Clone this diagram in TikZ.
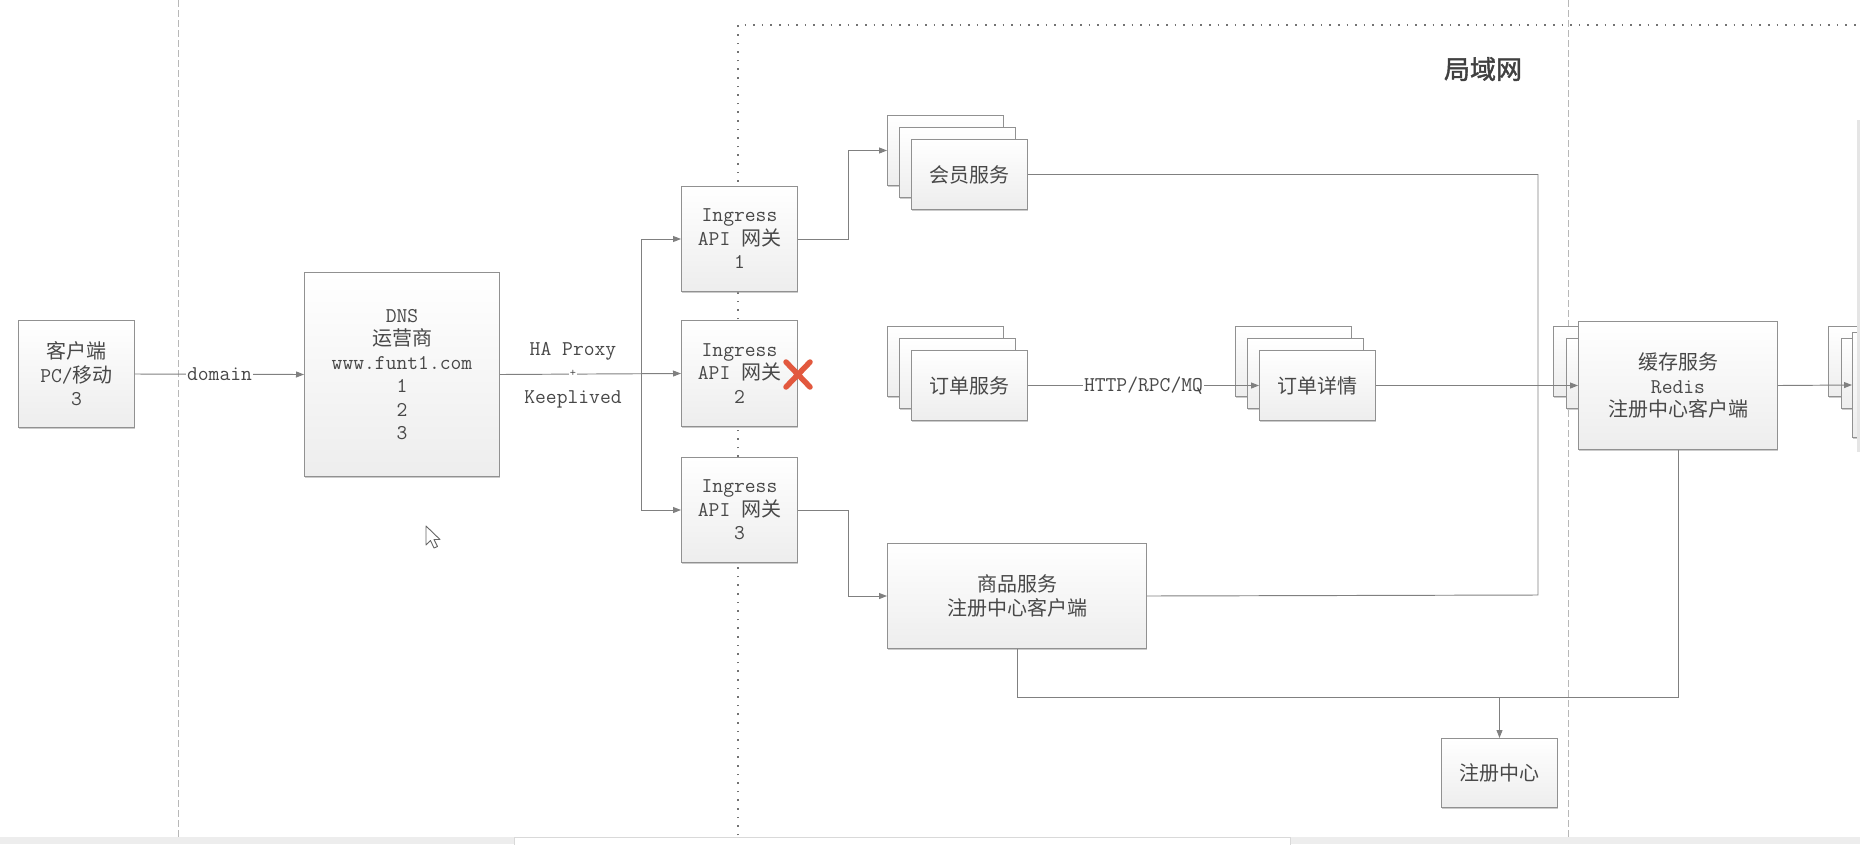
\documentclass[tikz,border=0pt]{standalone}
\usepackage{fontspec}
\newfontfamily\cjk{Noto Sans CJK SC}
\newfontfamily\cjkb[FakeBold=1.6]{Noto Sans CJK SC}
\newcommand{\zhs}[1]{{\cjk\fontsize{20}{23.5}\selectfont #1}}
\usetikzlibrary{arrows.meta,shadows}
\definecolor{ln}{RGB}{128,128,128}
\definecolor{bd}{RGB}{145,145,145}
\definecolor{tx}{RGB}{72,72,72}
\definecolor{xred}{RGB}{226,88,62}
\tikzset{
  box/.style={draw=bd, line width=1pt, top color=white, bottom color=black!7,
    text=tx, align=center, inner sep=0pt, anchor=north west,
    font=\ttfamily\fontsize{21}{23.5}\selectfont,
    drop shadow={shadow xshift=0.8pt, shadow yshift=-1.6pt, fill=black!40, opacity=0.5}},
  conn/.style={draw=ln, line width=0.95pt},
  arr/.style={conn, -{Triangle[length=8pt,width=6pt]}},
  lbl/.style={fill=white, inner sep=1.5pt, text=tx, font=\ttfamily\fontsize{21}{22}\selectfont},
  plainlbl/.style={inner sep=1pt, text=tx, font=\ttfamily\fontsize{21}{22}\selectfont},
  guide/.style={draw=black!28, line width=0.8pt, dash pattern=on 7pt off 3pt},
  region/.style={draw=black!55, line width=1.3pt, dash pattern=on 1.6pt off 7pt},
}
\begin{document}
\begin{tikzpicture}[x=1pt,y=-1pt]
\fill[white] (0,0) rectangle (1860,844);
\useasboundingbox (0,0) rectangle (1860,844);
\clip (0,0) rectangle (1860,844);

% guides
\draw[guide] (178,0) -- (178,838);
\draw[guide] (1568,0) -- (1568,838);
\draw[region] (738,844) -- (738,25) -- (1860,25);
\node[font=\cjkb\fontsize{26}{30}\selectfont, text=black!75] (lan) at (1483,69) {局域网};

% nodes
\node[box, minimum width=116pt, minimum height=107pt] (cl) at (18,320) {\zhs{客户端}\\PC/\zhs{移动}\\3};
\node[box, minimum width=195pt, minimum height=204pt] (dns) at (304,272) {DNS\\\zhs{运营商}\\www.funt1.com\\1\\2\\3};
\node[box, minimum width=116pt, minimum height=105pt] (ing1) at (681,186) {Ingress\\API \zhs{网关}\\1};
\node[box, minimum width=116pt, minimum height=106pt] (ing2) at (681,320) {Ingress\\API \zhs{网关}\\2};
\node[box, minimum width=116pt, minimum height=105pt] (ing3) at (681,457) {Ingress\\API \zhs{网关}\\3};

\node[box, minimum width=116pt, minimum height=70pt] (hy1) at (887,115) {};
\node[box, minimum width=116pt, minimum height=70pt] (hy2) at (899,127) {};
\node[box, minimum width=116pt, minimum height=70pt] (hy3) at (911,139) {\zhs{会员服务}};

\node[box, minimum width=116pt, minimum height=70pt] (dd1) at (887,326) {};
\node[box, minimum width=116pt, minimum height=70pt] (dd2) at (899,338) {};
\node[box, minimum width=116pt, minimum height=70pt] (dd3) at (911,350) {\zhs{订单服务}};

\node[box, minimum width=116pt, minimum height=70pt] (xq1) at (1235,326) {};
\node[box, minimum width=116pt, minimum height=70pt] (xq2) at (1247,338) {};
\node[box, minimum width=116pt, minimum height=70pt] (xq3) at (1259,350) {\zhs{订单详情}};

\node[box, minimum width=116pt, minimum height=70pt] (hb1) at (1553,326) {};
\node[box, minimum width=116pt, minimum height=70pt] (hb2) at (1566,338) {};
\node[box, minimum width=199pt, minimum height=128pt] (hc) at (1578,321) {\zhs{缓存服务}\\Redis\\\zhs{注册中心客户端}};

\node[box, minimum width=116pt, minimum height=70pt] (rs1) at (1828,326) {};
\node[box, minimum width=116pt, minimum height=70pt] (rs2) at (1841,338) {};
\node[box, minimum width=116pt, minimum height=105pt] (rs3) at (1852,332) {};

\node[box, minimum width=259pt, minimum height=105pt] (sp) at (887,543) {\zhs{商品服务}\\\zhs{注册中心客户端}};
\node[box, minimum width=116pt, minimum height=69pt] (reg) at (1441,738) {\zhs{注册中心}};

% connectors
\draw[arr] (cl.east) -- node[lbl] (dom) {domain} (dns.west);
\coordinate (br) at (641,373);
\draw[arr] (dns.east) -- (ing2.west);
\node[plainlbl] (hap) at (573,351) {HA Proxy};
\node[plainlbl, fill=white, font=\ttfamily\fontsize{12}{12}\selectfont, inner sep=0.5pt] (plus) at (573,373) {+};
\node[plainlbl] (kl) at (573,399) {Keeplived};
\draw[arr] (br) |- (ing1.west);
\draw[arr] (br) |- (ing3.west);

\draw[arr] (ing1.east) -- ++(50,0) |- (hy1.west);
\draw[arr] (ing3.east) -- ++(50,0) |- (sp.west);

\coordinate (lp) at (1538,595);
\draw[conn] (hy3.east) -| (lp) -- (sp.east);

\draw[arr] (dd3.east) -- node[lbl] (proto) {HTTP/RPC/MQ} (xq3.west);
\draw[arr] (xq3.east) -- (hc.west);
\draw[arr] (hc.east) -- (rs3.west);

\coordinate (bt) at (0,697);
\draw[conn] (sp.south) |- (bt -| hc.south) -- (hc.south);
\draw[arr] (reg.north |- bt) -- (reg.north);

% red cross on gateway 2
\draw[xred, line width=5.5pt, line cap=round] (786,362) -- (810,387) (810,362) -- (786,387);

% mouse cursor
\draw[black!60, fill=white, line width=0.9pt, line join=round]
  (426,526) -- (426,545) -- (430.5,540.5) -- (434,548) -- (437.5,546.5) -- (434,539.5) -- (440,539.5) -- cycle;

% window scrollbars
\fill[black!10] (1857,120) rectangle (1860,452);
\fill[black!7] (0,837) rectangle (1860,844);
\filldraw[fill=white, draw=black!15] (514,837) rectangle (1290,845);
\end{tikzpicture}
\end{document}
